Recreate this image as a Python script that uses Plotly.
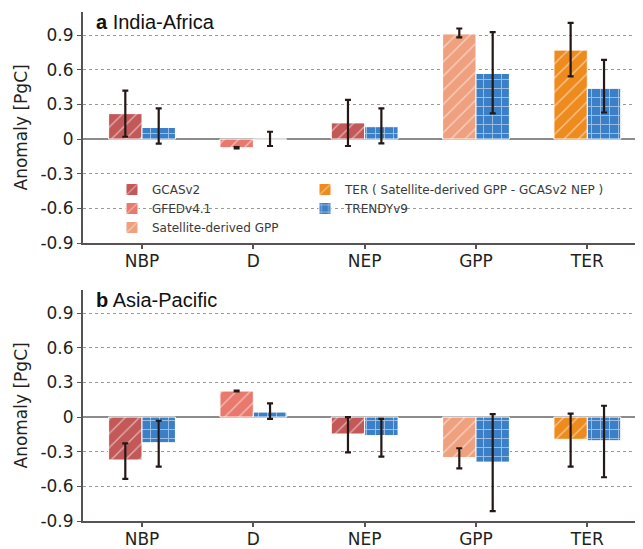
import plotly.graph_objects as go

categories = ["NBP", "D", "NEP", "GPP", "TER"]

# Which product provides the first (left) bar for each category
first_series = ["GCASv2", "GFEDv4.1", "GCASv2", "Satellite-derived GPP", "TER ( Satellite-derived GPP - GCASv2 NEP )"]

# Panel a: India-Africa
a_first = [0.22, -0.075, 0.14, 0.91, 0.77]
a_first_err_up = [0.20, 0.005, 0.20, 0.047, 0.235]
a_first_err_dn = [0.20, 0.005, 0.20, 0.030, 0.228]
a_trendy = [0.10, 0.0, 0.107, 0.568, 0.44]
a_trendy_err_up = [0.165, 0.063, 0.158, 0.357, 0.246]
a_trendy_err_dn = [0.140, 0.060, 0.144, 0.346, 0.210]

# Panel b: Asia-Pacific
b_first = [-0.372, 0.225, -0.147, -0.35, -0.193]
b_first_err_up = [0.144, 0.004, 0.147, 0.080, 0.222]
b_first_err_dn = [0.164, 0.004, 0.158, 0.094, 0.237]
b_trendy = [-0.222, 0.043, -0.16, -0.39, -0.205]
b_trendy_err_up = [0.190, 0.075, 0.145, 0.416, 0.303]
b_trendy_err_dn = [0.208, 0.058, 0.183, 0.425, 0.316]

y_ticks = [-0.9, -0.6, -0.3, 0, 0.3, 0.6, 0.9]
y_tick_labels = ["-0.9", "-0.6", "-0.3", "0", "0.3", "0.6", "0.9"]

colors = {
    "GCASv2": "#C35858",
    "GFEDv4.1": "#E8796C",
    "Satellite-derived GPP": "#EFA07F",
    "TER ( Satellite-derived GPP - GCASv2 NEP )": "#EE8B1F",
    "TRENDYv9": "#3B7FC6",
}
legend_order = ["GCASv2", "GFEDv4.1", "Satellite-derived GPP",
                "TER ( Satellite-derived GPP - GCASv2 NEP )", "TRENDYv9"]

# page body has an 8px margin: figure sized so it fills the 643x549 window
OFF = 8
W, H = 643 - OFF, 549 - OFF
ERR_COLOR = "#231815"
AXIS_COLOR = "#5a5252"
TEXT_COLOR = "#231f20"

fig = go.Figure()

panels = [
    ("x", "y", a_first, a_first_err_up, a_first_err_dn, a_trendy, a_trendy_err_up, a_trendy_err_dn, True),
    ("x2", "y2", b_first, b_first_err_up, b_first_err_dn, b_trendy, b_trendy_err_up, b_trendy_err_dn, False),
]

for xa, ya, fv, fup, fdn, tv, tup, tdn, show in panels:
    for name in legend_order[:-1]:
        idx = [i for i, s in enumerate(first_series) if s == name]
        is_ter = name.startswith("TER")
        fig.add_trace(go.Bar(
            x=[categories[i] for i in idx],
            y=[fv[i] for i in idx],
            name=name,
            xaxis=xa, yaxis=ya,
            offset=-0.3, width=0.3,
            marker=dict(color=colors[name],
                        line=dict(color="white", width=1),
                        pattern=dict(shape="/", fgcolor="white", bgcolor=colors[name],
                                     fillmode="overlay", size=10, solidity=0.14)),
            error_y=dict(type="data", symmetric=False,
                         array=[fup[i] for i in idx],
                         arrayminus=[fdn[i] for i in idx],
                         color=ERR_COLOR, thickness=2.2, width=3),
            showlegend=show,
            legend="legend2" if is_ter else "legend",
            legendrank=1 if is_ter else 1000,
        ))
    fig.add_trace(go.Bar(
        x=categories, y=tv, name="TRENDYv9",
        xaxis=xa, yaxis=ya,
        offset=0.0, width=0.3,
        marker=dict(color=colors["TRENDYv9"],
                    line=dict(color="white", width=1),
                    pattern=dict(shape="+", fgcolor="white", bgcolor=colors["TRENDYv9"],
                                 fillmode="overlay", size=9, solidity=0.2)),
        error_y=dict(type="data", symmetric=False, array=tup, arrayminus=tdn,
                     color=ERR_COLOR, thickness=2.2, width=3),
        showlegend=show, legend="legend2", legendrank=2,
    ))


def px_x(p):
    return (p - OFF) / W


def px_y(p):
    return 1 - (p - OFF) / H


yaxis_common = dict(
    range=[-0.9, 1.1], tickvals=y_ticks, ticktext=y_tick_labels,
    showgrid=True, gridcolor="#9a9a9a", griddash="dot", gridwidth=1,
    zeroline=True, zerolinecolor="#8c8c8c", zerolinewidth=1.5,
    showline=True, linecolor=AXIS_COLOR, linewidth=2,
    ticks="outside", ticklen=4, tickcolor=AXIS_COLOR, tickwidth=1,
    tickfont=dict(family="DejaVu Sans", size=17, color=TEXT_COLOR),
    automargin=False, fixedrange=True,
)
xaxis_common = dict(
    type="category", categoryorder="array", categoryarray=categories,
    range=[-0.53, 4.5],
    showgrid=False, zeroline=False,
    showline=True, linecolor=AXIS_COLOR, linewidth=2,
    ticks="outside", ticklen=4, tickcolor=AXIS_COLOR, tickwidth=1.5,
    ticklabelstandoff=-2,
    tickfont=dict(family="DejaVu Sans", size=17, color=TEXT_COLOR),
    automargin=False, fixedrange=True,
)

legend_font = dict(family="DejaVu Sans", size=12, color="#3a3a3a")

fig.update_layout(
    width=W, height=H,
    margin=dict(l=0, r=0, t=0, b=0),
    paper_bgcolor="white", plot_bgcolor="white",
    barmode="overlay",
    xaxis=dict(domain=[px_x(83), 1], anchor="y", **xaxis_common),
    yaxis=dict(domain=[px_y(243), px_y(12)], anchor="x", **yaxis_common),
    xaxis2=dict(domain=[px_x(83), 1], anchor="y2", **xaxis_common),
    yaxis2=dict(domain=[px_y(521), px_y(290)], anchor="x2", **yaxis_common),
    legend=dict(x=px_x(112), y=px_y(175), xanchor="left", yanchor="top",
                bgcolor="rgba(0,0,0,0)", font=legend_font,
                tracegroupgap=0, itemwidth=30, traceorder="normal"),
    legend2=dict(x=px_x(305), y=px_y(175), xanchor="left", yanchor="top",
                 bgcolor="rgba(0,0,0,0)", font=legend_font,
                 tracegroupgap=0, itemwidth=30, traceorder="normal"),
    annotations=[
        dict(text="<b>a</b> India-Africa", x=px_x(94), y=px_y(22), xref="paper", yref="paper",
             xanchor="left", yanchor="middle", showarrow=False,
             font=dict(family="Liberation Sans", size=20, color="#111111")),
        dict(text="<b>b</b> Asia-Pacific", x=px_x(94), y=px_y(300), xref="paper", yref="paper",
             xanchor="left", yanchor="middle", showarrow=False,
             font=dict(family="Liberation Sans", size=20, color="#111111")),
        dict(text="Anomaly [PgC]", x=px_x(20), y=px_y(127.5), xref="paper", yref="paper",
             xanchor="center", yanchor="middle", textangle=-90, showarrow=False,
             font=dict(family="DejaVu Sans", size=17, color=TEXT_COLOR)),
        dict(text="Anomaly [PgC]", x=px_x(20), y=px_y(405.5), xref="paper", yref="paper",
             xanchor="center", yanchor="middle", textangle=-90, showarrow=False,
             font=dict(family="DejaVu Sans", size=17, color=TEXT_COLOR)),
    ],
)

fig.write_html("out.html")
